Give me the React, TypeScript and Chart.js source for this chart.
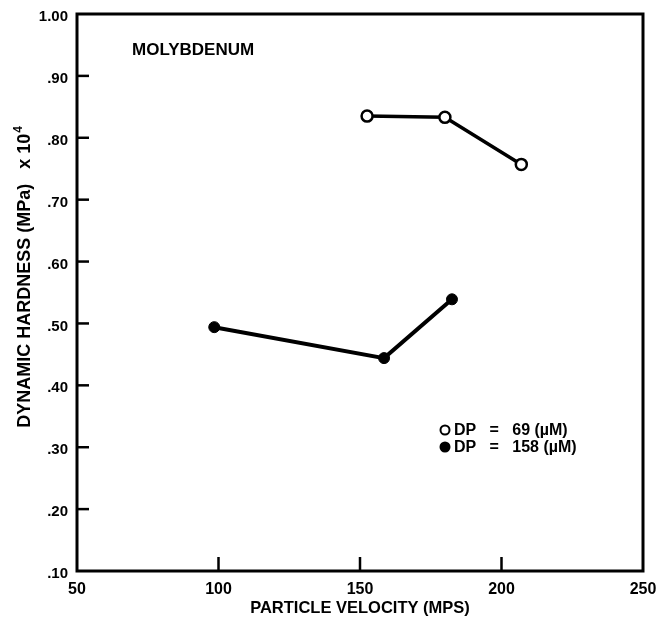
import React, { useEffect, useRef } from "react";
import { Chart, registerables } from "chart.js";

Chart.register(...registerables);

const chartTitle = "MOLYBDENUM";
const xAxisTitle = "PARTICLE VELOCITY (MPS)";
const yAxisTitleMain = "DYNAMIC HARDNESS (MPa)   x 10";
const yAxisTitleExp = "4";

const seriesLabels = ["DP   =   69 (µM)", "DP   =   158 (µM)"];

const dp69Velocity = [152.5, 180, 207];
const dp69Hardness = [0.835, 0.833, 0.757];

const dp158Velocity = [98.5, 158.5, 182.5];
const dp158Hardness = [0.494, 0.444, 0.539];

const xTickValues = [50, 100, 150, 200, 250];
const xTickLabels = ["50", "100", "150", "200", "250"];
const yTickValues = [0.1, 0.2, 0.3, 0.4, 0.5, 0.6, 0.7, 0.8, 0.9, 1.0];
const yTickLabels = [".10", ".20", ".30", ".40", ".50", ".60", ".70", ".80", ".90", "1.00"];

const FONT = "'Liberation Sans', Arial, Helvetica, sans-serif";

const toPoints = (xs: number[], ys: number[]) => xs.map((x, i) => ({ x, y: ys[i] }));

const framePlugin = {
  id: "frameAndExtras",
  afterDatasetsDraw(chart: any) {
    const { ctx, chartArea } = chart;
    const xs = chart.scales.x;
    const ys = chart.scales.y;
    ctx.save();
    ctx.strokeStyle = "#000";
    ctx.lineWidth = 3;
    ctx.lineCap = "butt";
    ctx.strokeRect(chartArea.left, chartArea.top, chartArea.right - chartArea.left, chartArea.bottom - chartArea.top);
    // inward tick marks
    ctx.lineWidth = 2.5;
    yTickValues.forEach((v) => {
      if (v <= ys.min + 1e-9 || v >= ys.max - 1e-9) return;
      const py = ys.getPixelForValue(v);
      ctx.beginPath();
      ctx.moveTo(chartArea.left, py);
      ctx.lineTo(chartArea.left + 12, py);
      ctx.stroke();
    });
    xTickValues.forEach((v) => {
      if (v <= xs.min || v >= xs.max) return;
      const px = xs.getPixelForValue(v);
      ctx.beginPath();
      ctx.moveTo(px, chartArea.bottom);
      ctx.lineTo(px, chartArea.bottom - 14);
      ctx.stroke();
    });
    // title inside plot
    ctx.fillStyle = "#000";
    ctx.font = `bold 17px ${FONT}`;
    ctx.textAlign = "left";
    ctx.textBaseline = "middle";
    ctx.fillText(chartTitle, chartArea.left + 55, 50);
    // y axis title (rotated, with superscript)
    ctx.save();
    ctx.translate(24, 277);
    ctx.rotate(-Math.PI / 2);
    ctx.font = `bold 18px ${FONT}`;
    const mainW = ctx.measureText(yAxisTitleMain).width;
    ctx.font = `bold 12px ${FONT}`;
    const expW = ctx.measureText(yAxisTitleExp).width;
    const startX = -(mainW + expW + 1) / 2;
    ctx.font = `bold 18px ${FONT}`;
    ctx.textAlign = "left";
    ctx.textBaseline = "middle";
    ctx.fillText(yAxisTitleMain, startX, 1);
    ctx.font = `bold 12px ${FONT}`;
    ctx.fillText(yAxisTitleExp, startX + mainW + 1, -5);
    ctx.restore();
    // legend
    const legendX = 445;
    const legendY = [430, 447];
    ctx.font = `bold 16px ${FONT}`;
    ctx.textAlign = "left";
    ctx.textBaseline = "middle";
    chart.data.datasets.forEach((ds: any, i: number) => {
      const y = legendY[i];
      ctx.beginPath();
      ctx.arc(legendX, y, 4.5, 0, Math.PI * 2);
      ctx.fillStyle = ds.pointBackgroundColor;
      ctx.fill();
      ctx.lineWidth = 2;
      ctx.strokeStyle = "#000";
      ctx.stroke();
      ctx.fillStyle = "#000";
      ctx.fillText(ds.label, legendX + 9, y + 1);
    });
    ctx.restore();
  },
};

export default function App() {
  const ref = useRef<HTMLCanvasElement | null>(null);
  useEffect(() => {
    if (!ref.current) return;
    const chart = new Chart(ref.current, {
      type: "line",
      data: {
        datasets: [
          {
            label: seriesLabels[0],
            data: toPoints(dp69Velocity, dp69Hardness),
            borderColor: "#000",
            borderWidth: 3.5,
            pointRadius: 5.5,
            pointBorderWidth: 2.5,
            pointBackgroundColor: "#fff",
            pointBorderColor: "#000",
            tension: 0,
          },
          {
            label: seriesLabels[1],
            data: toPoints(dp158Velocity, dp158Hardness),
            borderColor: "#000",
            borderWidth: 4,
            pointRadius: 5.5,
            pointBorderWidth: 1,
            pointBackgroundColor: "#000",
            pointBorderColor: "#000",
            tension: 0,
          },
        ],
      },
      options: {
        responsive: false,
        animation: false,
        devicePixelRatio: 1,
        layout: { padding: { top: 14, right: 16, left: 0, bottom: 0 } },
        plugins: {
          legend: { display: false },
          tooltip: { enabled: false },
          title: { display: false },
        },
        scales: {
          x: {
            type: "linear",
            min: 50,
            max: 250,
            afterBuildTicks: (scale: any) => {
              scale.ticks = xTickValues.map((v) => ({ value: v }));
            },
            afterFit: (scale: any) => {
              scale.height = 48;
              scale.paddingLeft = 0;
              scale.paddingRight = 0;
            },
            grid: { display: false, drawTicks: false },
            border: { display: false },
            ticks: {
              color: "#000",
              padding: 9,
              maxRotation: 0,
              autoSkip: false,
              font: { family: FONT, size: 16, weight: "bold" },
              callback: (v: any) => {
                const i = xTickValues.indexOf(Number(v));
                return i >= 0 ? xTickLabels[i] : "";
              },
            },
            title: {
              display: true,
              text: xAxisTitle,
              color: "#000",
              font: { family: FONT, size: 16.5, weight: "bold" },
              padding: { top: 0, bottom: 1 },
            },
          },
          y: {
            type: "linear",
            min: 0.1,
            max: 1.0,
            afterBuildTicks: (scale: any) => {
              scale.ticks = yTickValues.map((v) => ({ value: v }));
            },
            afterFit: (scale: any) => {
              scale.width = 77;
              scale.paddingTop = 0;
              scale.paddingBottom = 0;
            },
            grid: { display: false, drawTicks: false },
            border: { display: false },
            ticks: {
              color: "#000",
              padding: 9,
              labelOffset: 3,
              autoSkip: false,
              font: { family: FONT, size: 15, weight: "bold" },
              callback: (v: any) => {
                const i = yTickValues.findIndex((t) => Math.abs(t - Number(v)) < 1e-6);
                return i >= 0 ? yTickLabels[i] : "";
              },
            },
            title: { display: false },
          },
        },
      },
      plugins: [framePlugin],
    } as any);
    return () => chart.destroy();
  }, []);
  return (
    <div style={{ position: "absolute", left: 0, top: 0, width: 659, height: 619, background: "#fff" }}>
      <canvas ref={ref} width={659} height={619} style={{ display: "block" }} />
    </div>
  );
}
